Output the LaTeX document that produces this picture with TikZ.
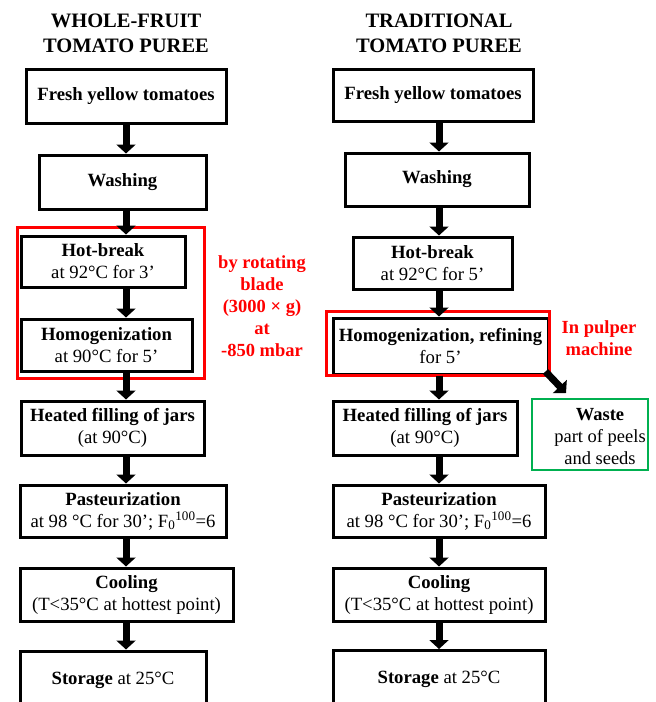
\documentclass[tikz,border=0pt]{standalone}
\usepackage{fontspec}
\setmainfont{Liberation Serif}
\usetikzlibrary{arrows.meta,calc}
\definecolor{wgreen}{RGB}{0,176,80}
\begin{document}
\begin{tikzpicture}[x=1pt,y=-1pt,
  box/.style={draw=black,line width=3pt,rectangle,inner sep=0pt,align=center,
    font=\fontsize{18.7pt}{22pt}\selectfont},
  arr/.style={line width=7pt,-{Triangle[width=19pt,length=9pt]}},
  redbox/.style={draw=red,line width=3pt},
  wastebox/.style={draw=wgreen,line width=2.5pt,rectangle,inner sep=0pt},
  plain/.style={inner sep=0pt,align=center,font=\fontsize{18.5pt}{22pt}\selectfont},
  title/.style={inner sep=0pt,align=center,font=\fontsize{20.5pt}{25pt}\selectfont\bfseries},
  note/.style={inner sep=0pt,text=red,align=center,font=\fontsize{18.5pt}{22pt}\selectfont\bfseries}]
\useasboundingbox (0,0) rectangle (656,702);
\fill[white] (0,0) rectangle (656,702);

\coordinate (colL) at (126,0);
\coordinate (colR) at (439,0);

% titles
\node[title] (TL) at (126,33) {WHOLE-FRUIT\\TOMATO PUREE};
\node[title] (TR) at (439,33) {TRADITIONAL\\TOMATO PUREE};

% left column
\node[box,minimum width=200pt,minimum height=54pt] (L1) at (126,96) {\textbf{Fresh yellow tomatoes}};
\node[box,minimum width=167pt,minimum height=54pt] (L2) at (122.5,182) {\textbf{Washing}};
\node[box,minimum width=164pt,minimum height=51pt] (L3) at (103,261.5) {\textbf{Hot-break}\\at 92°C for 3’};
\node[box,minimum width=171pt,minimum height=52pt] (L4) at (106.5,345) {\textbf{Homogenization}\\at 90°C for 5’};
\node[box,minimum width=183pt,minimum height=54pt] (L5) at (112.5,428) {\textbf{Heated filling of jars}\\(at 90°C)};
\node[box,minimum width=206pt,minimum height=52pt] (L6) at (123,511) {\textbf{Pasteurization}\\at 98 °C for 30’; F\textsubscript{0}\textsuperscript{100}=6};
\node[box,minimum width=213pt,minimum height=53pt] (L7) at (126.5,594.5) {\textbf{Cooling}\\(T<35°C at hottest point)};
\node[box,minimum width=186pt,minimum height=58pt] (L8) at (113,680) {\textbf{Storage} at 25°C};

% right column
\node[box,minimum width=200pt,minimum height=52pt] (R1) at (433,95) {\textbf{Fresh yellow tomatoes}};
\node[box,minimum width=184pt,minimum height=53pt] (R2) at (437,179.5) {\textbf{Washing}};
\node[box,minimum width=159pt,minimum height=52pt] (R3) at (432.5,263) {\textbf{Hot-break}\\at 92°C for 5’};
\node[box,minimum width=215pt,minimum height=56pt] (R4) at (440.5,346) {\textbf{Homogenization, refining}\\for 5’};
\node[box,minimum width=184pt,minimum height=54pt] (R5) at (425,428) {\textbf{Heated filling of jars}\\(at 90°C)};
\node[box,minimum width=212pt,minimum height=52pt] (R6) at (439,511) {\textbf{Pasteurization}\\at 98 °C for 30’; F\textsubscript{0}\textsuperscript{100}=6};
\node[box,minimum width=212pt,minimum height=53pt] (R7) at (439,594.5) {\textbf{Cooling}\\(T<35°C at hottest point)};
\node[box,minimum width=212pt,minimum height=58pt] (R8) at (439,679.5) {\textbf{Storage} at 25°C};

% waste
\node[wastebox,minimum width=116pt,minimum height=71pt] (W) at (590,434.5) {};
\node[plain] (Wt) at (600,437) {\textbf{Waste}\\part of peels\\and seeds};

% red frames and notes
\draw[redbox] (17.5,227.5) rectangle (204.5,378.5);
\draw[redbox] (326.5,311.5) rectangle (549.5,375.5);
\node[note] (NL) at (262,306) {by rotating\\blade\\(3000 × g)\\at\\-850 mbar};
\node[note] (NR) at (599,338) {In pulper\\machine};

% arrows left
\draw[arr] (L1.south -| colL) -- (L2.north -| colL);
\draw[arr] (L2.south -| colL) -- (L3.north -| colL);
\draw[arr] (L3.south -| colL) -- (L4.north -| colL);
\draw[arr] (L4.south -| colL) -- (L5.north -| colL);
\draw[arr] (L5.south -| colL) -- (L6.north -| colL);
\draw[arr] (L6.south -| colL) -- (L7.north -| colL);
\draw[arr] (L7.south -| colL) -- (L8.north -| colL);

% arrows right
\draw[arr] (R1.south -| colR) -- (R2.north -| colR);
\draw[arr] (R2.south -| colR) -- (R3.north -| colR);
\draw[arr] (R3.south -| colR) -- (R4.north -| colR);
\draw[arr] (R4.south -| colR) -- (R5.north -| colR);
\draw[arr] (R5.south -| colR) -- (R6.north -| colR);
\draw[arr] (R6.south -| colR) -- (R7.north -| colR);
\draw[arr] (R7.south -| colR) -- (R8.north -| colR);

\coordinate (wtip) at (566,393);
\draw[arr] ($(R4.south east)+(-4,-4)$) -- (wtip);
\end{tikzpicture}
\end{document}
